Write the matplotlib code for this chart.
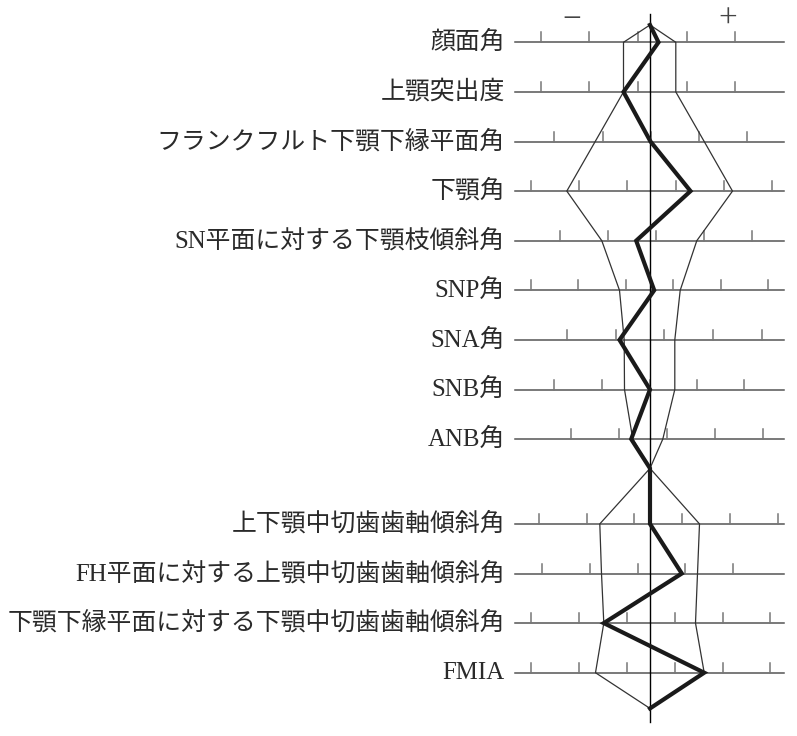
import numpy as np
import matplotlib
matplotlib.use("Agg")
import matplotlib.pyplot as plt

# ---- data (positions on the common horizontal scale, centre = mean) ----
labels = ["顔面角", "上顎突出度", "フランクフルト下顎下縁平面角", "下顎角",
          "SN平面に対する下顎枝傾斜角", "SNP角", "SNA角", "SNB角", "ANB角",
          "上下顎中切歯歯軸傾斜角", "FH平面に対する上顎中切歯歯軸傾斜角",
          "下顎下縁平面に対する下顎中切歯歯軸傾斜角", "FMIA"]

sd_low = [-26.5, -26.5, -54.8, -83.2, -48.2, -30.5, -25.8, -25.5, -17.2,
          -50.2, -48.5, -46.2, -54.5]
sd_high = [25.8, 25.8, 54.2, 82.5, 46.8, 30.2, 24.8, 24.8, 12.8,
           49.5, 47.5, 45.5, 54.2]
patient = [8.5, -26.5, 0.5, 40.5, -13.8, 4.2, -30.5, 0.0, -18.8,
           0.0, 31.8, -46.2, 54.2]

ticks = [
    [-109.2, -60.5, -11.5, 36.8, 85.5],
    [-109.2, -60.5, -11.5, 36.8, 85.5],
    [-95.5, -47.2, 0.8, 49.5, 97.5],
    [-118.8, -70.8, -22.5, 25.8, 73.8, 122.2],
    [-89.5, -41.5, 6.2, 53.8, 101.8],
    [-118.8, -71.5, -23.8, 23.5, 70.8, 118.5],
    [-82.5, -34.2, 14.5, 63.5, 112.2],
    [-95.5, -47.8, 0.0, 46.8, 94.5],
    [-78.5, -30.8, 16.8, 64.8, 112.8],
    [-111.2, -63.2, -15.5, 31.8, 79.8, 127.8],
    [-107.8, -59.8, -12.2, 35.5, 83.5],
    [-118.8, -70.8, -23.2, 24.8, 72.8, 120.5],
    [-118.8, -70.8, -23.2, 24.8, 72.8, 120.5],
]

# ---- layout ----
n1 = 9
ys = np.r_[np.arange(n1), 9.71 + np.arange(len(labels) - n1)]
y_top, y_mid, y_bot = -0.35, 8.59, 13.43

fig = plt.figure(figsize=(7.97, 7.36), dpi=100)
ax = fig.add_axes([0, 0, 1, 1])
ax.set_xlim(-650, 147)
ax.set_ylim(13.986, -0.853)
ax.axis("off")

fam = ["Liberation Serif", "Noto Sans CJK JP"]

def build(vals):
    xs = [0] + list(vals[:n1]) + [0] + list(vals[n1:]) + [0]
    yy = [y_top] + list(ys[:n1]) + [y_mid] + list(ys[n1:]) + [y_bot]
    return xs, yy

# horizontal rules and ticks
for i, y in enumerate(ys):
    ax.plot([-135, 134], [y, y], color="#555555", lw=1.1, zorder=1)
    for t in ticks[i]:
        ax.plot([t, t], [y, y - 0.2], color="#777777", lw=1.1, zorder=1)
    ax.text(-145, y, labels[i], ha="right", va="center", fontsize=17.9,
            family=fam, color="#2a2a2a")

# centre line
ax.plot([0, 0], [-0.571, 13.70], color="black", lw=1.0, zorder=2)

# SD lines
for vals in (sd_low, sd_high):
    xs, yy = build(vals)
    ax.plot(xs, yy, color="#333333", lw=0.9, zorder=3)

# patient line
xs, yy = build(patient)
ax.plot(xs, yy, color="#1a1a1a", lw=3.0, zorder=4, solid_joinstyle="miter")

ax.text(-78, -0.45, "−", ha="center", va="center", fontsize=24,
        family=["Liberation Serif", "DejaVu Sans"], color="#444444")
ax.text(77.5, -0.45, "+", ha="center", va="center", fontsize=24,
        family=["Liberation Serif", "DejaVu Sans"], color="#444444")

fig.savefig("out.png", dpi=100)
